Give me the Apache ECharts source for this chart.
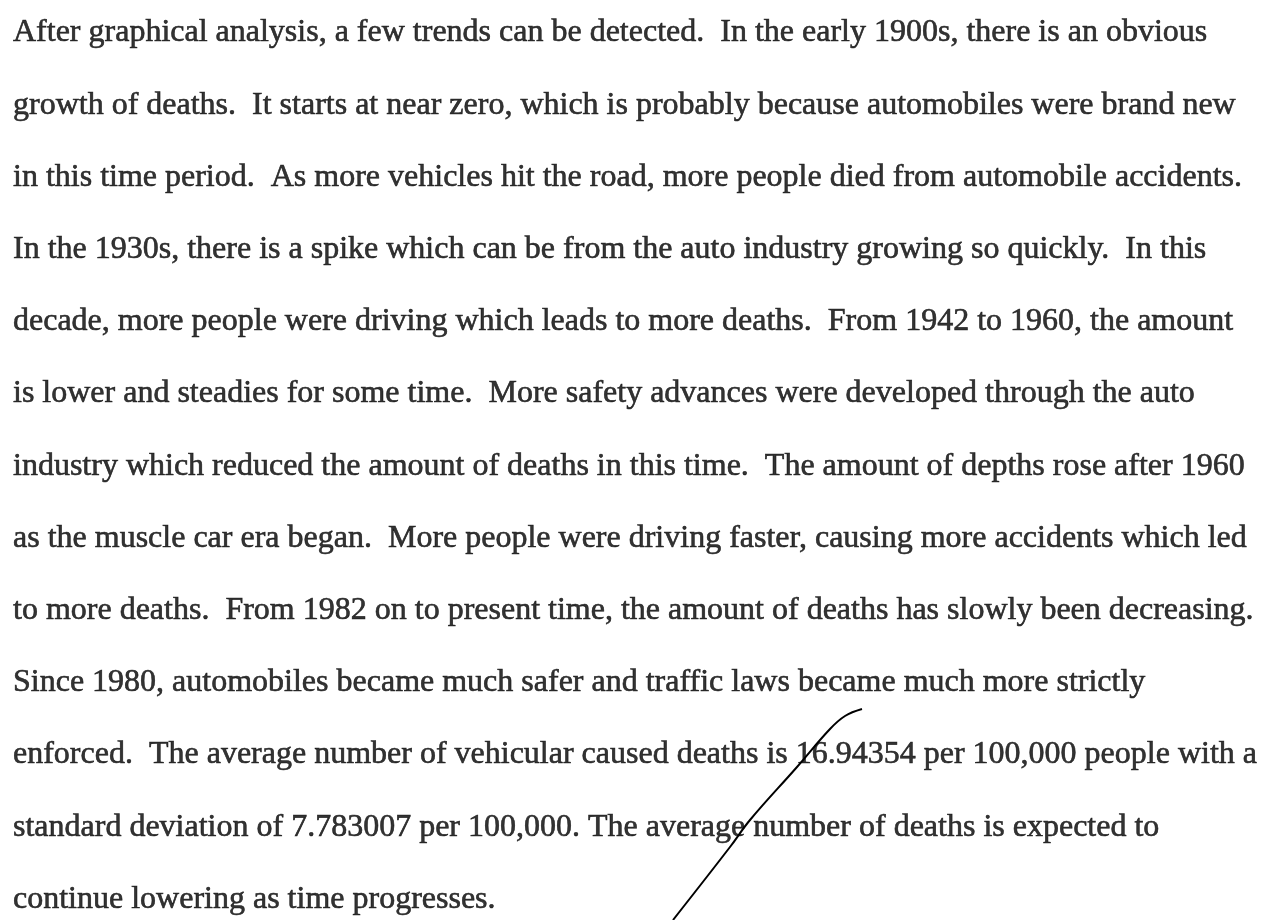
<!DOCTYPE html>
<html>
<head>
<meta charset="utf-8">
<script src="https://cdn.jsdelivr.net/npm/echarts@6/dist/echarts.min.js"></script>
<style>
  html, body { margin: 0; padding: 0; background: #fff; }
  #page { width: 1268px; height: 920px; }
</style>
</head>
<body>
<div id="page"></div>
<script>
// paragraph, one entry per printed line
var textLines = [
  'After graphical analysis, a few trends can be detected.  In the early 1900s, there is an obvious',
  'growth of deaths.  It starts at near zero, which is probably because automobiles were brand new',
  'in this time period.  As more vehicles hit the road, more people died from automobile accidents.',
  'In the 1930s, there is a spike which can be from the auto industry growing so quickly.  In this',
  'decade, more people were driving which leads to more deaths.  From 1942 to 1960, the amount',
  'is lower and steadies for some time.  More safety advances were developed through the auto',
  'industry which reduced the amount of deaths in this time.  The amount of depths rose after 1960',
  'as the muscle car era began.  More people were driving faster, causing more accidents which led',
  'to more deaths.  From 1982 on to present time, the amount of deaths has slowly been decreasing.',
  'Since 1980, automobiles became much safer and traffic laws became much more strictly',
  'enforced.  The average number of vehicular caused deaths is 16.94354 per 100,000 people with a',
  'standard deviation of 7.783007 per 100,000. The average number of deaths is expected to',
  'continue lowering as time progresses.'
];

// hand-drawn pen stroke, page coordinates
var penX = [862, 845, 830, 797, 750, 730, 673];
var penY = [709, 716, 729, 767, 820, 847, 920];

var chart = echarts.init(document.getElementById('page'));

var lineData = textLines.map(function (t, i) {
  return { value: [0, i], label: { formatter: t } };
});

var penData = penX.map(function (x, i) {
  return [x, penY[i]];
});

var option = {
  animation: false,
  grid: { left: 0, right: 0, top: 0, bottom: 0 },
  xAxis: { type: 'value', min: 0, max: 1268, show: false },
  yAxis: [
    { type: 'value', min: 0, max: 920, inverse: true, show: false },
    // one unit per printed line, line 0 centred at y=33, 72.2px apart
    { type: 'value', min: -33 / 72.2, max: (920 - 33) / 72.2, inverse: true, show: false }
  ],
  series: [
    {
      type: 'scatter',
      yAxisIndex: 1,
      symbolSize: 0,
      silent: true,
      data: lineData,
      label: {
        show: true,
        position: 'right',
        distance: 13,
        color: '#000',
        textBorderColor: '#000',
        textBorderWidth: 0.6,
        fontFamily: 'Liberation Serif',
        fontSize: 32,
        verticalAlign: 'middle'
      }
    },
    {
      type: 'line',
      data: penData,
      smooth: 0.4,
      symbol: 'none',
      silent: true,
      lineStyle: { color: '#000', width: 2 }
    }
  ]
};

chart.setOption(option);
</script>
</body>
</html>
